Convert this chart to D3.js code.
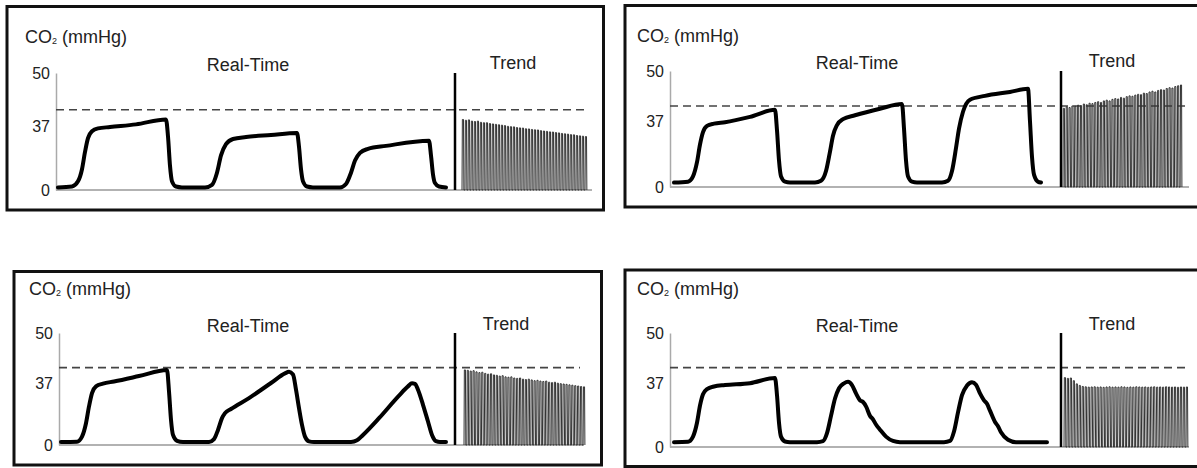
<!DOCTYPE html>
<html>
<head>
<meta charset="utf-8">
<script src="https://cdn.jsdelivr.net/npm/d3@7"></script>
<style>
body { margin: 0; background: #fff; }
svg { display: block; }
text { font-family: "Liberation Sans", Arial, sans-serif; }
</style>
</head>
<body>
<script>
// tick labels on the CO2 axis, and the dashed reference level
const yTicks = [0, 37, 50];
const threshold = 41;

// real-time waveforms: [time, CO2 mmHg]
const wave1 = [[2,1.5],[16,2],[22,5],[26,12],[29,22],[32,30],[36,34],[42,35.6],[54,36.4],[80,37.4],[110,38.6],[112,31],[114,14],[116,5],[120,2],[126,1.5],
  [149,1.5],[156,3],[161,10],[165,20],[170,26.5],[177,29.5],[190,30.6],[215,31.8],[241,33],[243,25],[245,12],[247,5],[251,2],[257,1.5],
  [284,1.5],[290,3.5],[295,10],[299,17],[304,21.5],[312,23.8],[330,25.5],[373,28.5],[375,20],[377,9],[379,4],[383,2],[390,1.5]];
const wave2 = [[4,2.5],[18,3],[23,6],[27,14],[30,24],[33,31],[37,34.5],[44,35.8],[55,36.6],[80,38.2],[105,40],[107,32],[109,15],[111,6],[115,3],[120,2.5],
  [145,2.5],[151,3.5],[156,9],[160,20],[163,29],[167,35],[173,37.6],[185,38.6],[210,40.3],[232,41.5],[234,33],[236,15],[238,6],[242,3],[247,2.5],
  [272,2.5],[278,3.5],[282,9],[286,22],[289,33],[293,39.5],[300,42.6],[315,43.6],[340,44.6],[358,45.4],[360,37],[362,17],[364,7],[368,3],[371,2.5]];
const wave3 = [[2,1.8],[18,2],[23,5],[27,13],[30,23],[33,31],[37,35],[44,36.6],[55,37.4],[80,38.8],[108,40.4],[110,32],[112,15],[114,6],[118,2.5],[124,1.8],
  [150,1.8],[155,3.5],[159,9],[163,16],[166,19],[172,21.5],[190,28],[212,37],[226,39.5],[230,39.9],[234,39.2],[237,33],[240,22],[243,12],[246,5],[250,2.2],[255,1.8],
  [292,1.8],[298,2.8],[304,6],[320,16],[340,29.5],[349,35],[353,36.8],[356,36.5],[359,33],[364,24],[369,14],[373,6],[377,2.3],[381,1.8],[387,1.8]];
const wave4 = [[4,2.8],[18,3],[23,6],[27,14],[30,24],[33,30.5],[37,33.5],[44,35],[55,35.8],[80,36.9],[105,38.3],[107,30],[109,14],[111,6],[115,3.2],[120,2.8],
  [147,2.8],[153,3.4],[157,8],[161,18],[165,28],[169,34],[174,36.8],[178,37.3],[182,35.8],[186,31],[190,27],[193,26],[196,23.5],[200,18],[203,16],[206,13],[210,10],[216,6],[223,3.5],[230,2.8],
  [274,2.8],[280,3.5],[284,9],[288,20],[292,30],[297,35.5],[302,37.2],[306,36],[310,31],[314,27],[317,25],[320,21],[325,14.5],[328,12],[331,8.5],[338,4.2],[346,2.8],[377,2.8]];

// trend: end-tidal CO2 of each breath
const trend1 = [38.6,38.4,38.5,38.2,38.1,38.2,37.9,37.8,37.8,37.6,37.5,37.4,37.3,37.2,37.1,36.8,36.6,36.5,36.1,35.9,35.8,35.4,35.3,35.0,34.8,34.7,34.3,34.1,33.9,33.6,33.5,33.2,33.0,32.7,32.5,32.3,32.0,31.9,31.5,31.3,31.1,30.9];
const trend2 = [40.4,40.8,40.6,41.0,40.9,41.2,41.1,41.5,41.3,41.7,41.6,41.9,42.1,41.9,42.3,42.5,42.3,42.7,42.9,42.8,43.2,43.0,43.4,43.6,43.5,43.8,44.0,43.9,44.3,44.2,44.6,44.8,44.6,45.0,45.2,45.1,45.5,45.7,45.6,46.0,46.2,46.4];
const trend3 = [40.4,40.3,40.1,40.2,39.9,39.7,39.8,39.5,39.3,39.4,39.1,39.0,38.8,38.9,38.6,38.5,38.6,38.3,38.2,38.3,38.0,37.9,38.0,37.8,37.6,37.7,37.5,37.4,37.5,37.2,37.1,37.2,36.9,36.6,36.4,36.2,35.9,35.7,35.4,35.2,34.9,34.7];
const trend4 = [38.4,38.2,38.3,37.6,36.5,35.6,35.0,34.8,34.6,34.7,34.8,34.6,34.7,34.5,34.7,34.8,34.6,34.7,34.6,34.8,34.7,34.5,34.7,34.6,34.8,34.7,34.6,34.7,34.5,34.7,34.8,34.6,34.7,34.6,34.8,34.7,34.6,34.7,34.5,34.7,34.6,34.7];

// panel layout
const panels = [
  {box:[7,6.5,596.5,203.5], axisX:56, sepX:455, y0:190, y37:126, y50:73, baseEnd:592, dashEnd:585, trendX:[462,588],
   label:[25,43], rt:[248,71], tr:[513,69], wave:wave1, trend:trend1},
  {box:[625,5.5,580,201.5], axisX:670, sepX:1061, y0:187, y37:121.5, y50:71, baseEnd:1189, dashEnd:1186, trendX:[1063,1183],
   label:[637,42], rt:[857,69], tr:[1112,67], wave:wave2, trend:trend2},
  {box:[14,271.5,587.5,193.5], axisX:59, sepX:455, y0:445, y37:383, y50:333, baseEnd:584, dashEnd:580, trendX:[464,586],
   label:[29,295], rt:[248,332], tr:[506,330], wave:wave3, trend:trend3},
  {box:[625,270,580,196.5], axisX:670, sepX:1061, y0:447, y37:383, y50:333, baseEnd:1189, dashEnd:1189, trendX:[1064,1189],
   label:[637,295], rt:[857,332], tr:[1112,330], wave:wave4, trend:trend4}
];

const svg = d3.select("body").append("svg")
  .attr("width", 1197)
  .attr("height", 468);

panels.forEach(p => {
  const g = svg.append("g");

  g.append("rect")
    .attr("x", p.box[0]).attr("y", p.box[1])
    .attr("width", p.box[2]).attr("height", p.box[3])
    .attr("fill", "none").attr("stroke", "#111").attr("stroke-width", 3);

  const y = d3.scaleLinear().domain([0, 37, 50]).range([p.y0, p.y37, p.y50]);
  const x = d3.scaleLinear().domain([0, 400]).range([p.axisX, p.axisX + 400]);

  // baseline
  g.append("line")
    .attr("x1", p.axisX).attr("x2", p.baseEnd)
    .attr("y1", y(0)).attr("y2", y(0))
    .attr("stroke", "#999").attr("stroke-width", 1.5);

  // y axis
  const ax = g.append("g")
    .attr("transform", "translate(" + p.axisX + ",0)")
    .call(d3.axisLeft(y).tickValues(yTicks).tickSize(0).tickPadding(6).tickFormat(d3.format("d")))
    .attr("font-size", 16)
    .attr("font-family", '"Liberation Sans", Arial, sans-serif');
  ax.select(".domain").attr("stroke", "#aaa").attr("stroke-width", 1.5);
  ax.selectAll("text").attr("fill", "#222");

  // dashed reference
  g.append("line")
    .attr("x1", p.axisX).attr("x2", p.dashEnd)
    .attr("y1", y(threshold)).attr("y2", y(threshold))
    .attr("stroke", "#444").attr("stroke-width", 1.6)
    .attr("stroke-dasharray", "8,5");

  // trend
  const tx = d3.scaleLinear().domain([0, p.trend.length]).range(p.trendX);
  const pts = [];
  p.trend.forEach((v, i) => {
    pts.push([i, 0], [i + 0.12, v], [i + 0.5, v], [i + 0.62, 0]);
  });
  g.append("path")
    .attr("d", d3.line().x(d => tx(d[0])).y(d => y(d[1]))(pts))
    .attr("fill", "none").attr("stroke", "#333").attr("stroke-width", 1);

  // real-time / trend divider
  g.append("line")
    .attr("x1", p.sepX).attr("x2", p.sepX)
    .attr("y1", y(50)).attr("y2", y(0))
    .attr("stroke", "#000").attr("stroke-width", 2.5);

  // capnogram
  g.append("path")
    .datum(p.wave)
    .attr("d", d3.line().x(d => x(d[0])).y(d => y(d[1])).curve(d3.curveMonotoneX))
    .attr("fill", "none").attr("stroke", "#000").attr("stroke-width", 4)
    .attr("stroke-linejoin", "round").attr("stroke-linecap", "round");

  // labels
  const lab = g.append("text")
    .attr("x", p.label[0]).attr("y", p.label[1])
    .attr("font-size", 18).attr("fill", "#222");
  lab.append("tspan").text("CO");
  lab.append("tspan").attr("font-size", 9).attr("dy", 1).text("2");
  lab.append("tspan").attr("dy", -1).text(" (mmHg)");

  g.append("text")
    .attr("x", p.rt[0]).attr("y", p.rt[1])
    .attr("text-anchor", "middle").attr("font-size", 18).attr("fill", "#222")
    .text("Real-Time");

  g.append("text")
    .attr("x", p.tr[0]).attr("y", p.tr[1])
    .attr("text-anchor", "middle").attr("font-size", 18).attr("fill", "#222")
    .text("Trend");
});
</script>
</body>
</html>
